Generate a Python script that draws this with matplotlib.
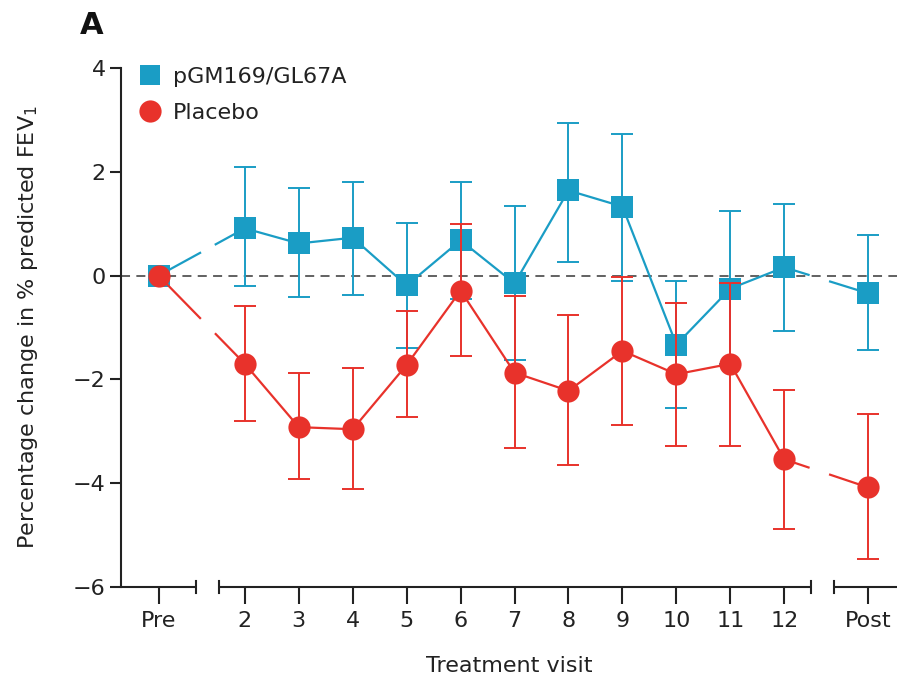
import matplotlib
matplotlib.use('Agg')
import matplotlib.pyplot as plt
from matplotlib.lines import Line2D
import numpy as np

# ---- data ----
visits = ['Pre', '2', '3', '4', '5', '6', '7', '8', '9', '10', '11', '12', 'Post']
active_mean = [0.0, 0.91, 0.62, 0.73, -0.19, 0.68, -0.15, 1.64, 1.33, -1.33, -0.25, 0.16, -0.34]
active_upper = [0.0, 2.09, 1.68, 1.80, 1.02, 1.80, 1.35, 2.94, 2.72, -0.10, 1.24, 1.38, 0.79]
active_lower = [0.0, -0.21, -0.41, -0.37, -1.39, -0.46, -1.62, 0.27, -0.10, -2.55, -1.70, -1.06, -1.43]
placebo_mean = [0.0, -1.70, -2.92, -2.96, -1.72, -0.29, -1.87, -2.22, -1.45, -1.90, -1.70, -3.54, -4.08]
placebo_upper = [0.0, -0.58, -1.87, -1.78, -0.69, 0.99, -0.39, -0.75, -0.02, -0.53, -0.15, -2.21, -2.66]
placebo_lower = [0.0, -2.80, -3.92, -4.11, -2.73, -1.54, -3.32, -3.65, -2.88, -3.29, -3.29, -4.89, -5.47]
yticks = [-6, -4, -2, 0, 2, 4]

# ---- layout ----
xpos = np.array([0.4] + list(range(2, 13)) + [13.55])
gaps = [(1.17, 1.46), (12.45, 12.85)]
blue = '#1a9dc5'
red = '#e8322b'
fam = ['Liberation Sans Narrow', 'DejaVu Sans']
plt.rcParams['font.family'] = fam

fig = plt.figure(figsize=(8.97, 6.82), dpi=100)
W, H = 897, 682
ax = fig.add_axes([121 / W, 1 - 587 / H, (897 - 121) / W, (587 - 68) / H])
ax.set_xlim(-0.296, 14.09)
ax.set_ylim(-6, 4)

# zero reference line
ax.axhline(0, color='#555555', lw=1.3, dashes=(5, 3.5), zorder=1)


def draw_series(mean, upper, lower, color, marker, ms, z):
    mean = np.array(mean)
    up = np.array(upper)
    lo = np.array(lower)
    # error bars
    ax.errorbar(xpos[1:], mean[1:], yerr=[mean[1:] - lo[1:], up[1:] - mean[1:]],
                fmt='none', ecolor=color, elinewidth=1.4, capsize=8, capthick=1.4,
                zorder=z, clip_on=False)
    # solid connecting line for visits 2..12
    ax.plot(xpos[1:-1], mean[1:-1], color=color, lw=1.6, zorder=z, clip_on=False)
    # broken connecting lines across axis breaks
    for (i, j), (g0, g1) in zip([(0, 1), (11, 12)], gaps):
        x0, x1 = xpos[i], xpos[j]
        y0, y1 = mean[i], mean[j]
        yg0 = y0 + (y1 - y0) * (g0 - x0) / (x1 - x0)
        yg1 = y0 + (y1 - y0) * (g1 - x0) / (x1 - x0)
        ax.plot([x0, g0], [y0, yg0], color=color, lw=1.6, zorder=z, clip_on=False)
        ax.plot([g1, x1], [yg1, y1], color=color, lw=1.6, zorder=z, clip_on=False)
    ax.plot(xpos, mean, linestyle='none', marker=marker, ms=ms, color=color,
            markeredgewidth=0, zorder=z + 1, clip_on=False)


draw_series(active_mean, active_upper, active_lower, blue, 's', 15.5, 3)
draw_series(placebo_mean, placebo_upper, placebo_lower, red, 'o', 16, 5)

# axes styling
for s in ['top', 'right', 'bottom']:
    ax.spines[s].set_visible(False)
ax.spines['left'].set_color('#222222')
ax.spines['left'].set_linewidth(1.5)
ax.set_yticks(yticks)
ax.set_yticklabels([str(t).replace('-', '\u2212') for t in yticks])
ax.tick_params(axis='y', direction='out', length=8, width=1.5, color='#222222',
               labelsize=16, labelcolor='#222222', pad=3)
ax.set_xticks(xpos)
ax.set_xticklabels(visits)
ax.tick_params(axis='x', direction='out', length=12, width=1.5, color='#222222',
               labelsize=16, labelcolor='#222222', pad=5)

# broken x axis
tr = ax.get_xaxis_transform()
segments = [(-0.296, 1.09), (1.52, 12.5), (12.93, 14.09)]
for k, (a, b) in enumerate(segments):
    ax.plot([a, b], [0, 0], color='#222222', lw=1.5, transform=tr, clip_on=False,
            solid_capstyle='butt')
    caps = []
    if k > 0:
        caps.append(a)
    if k < len(segments) - 1:
        caps.append(b)
    for c in caps:
        ax.plot([c, c], [-0.012, 0.012], color='#222222', lw=1.5, transform=tr,
                clip_on=False)

ax.set_xlabel('Treatment visit', fontsize=16, color='#222222', labelpad=18)
ax.set_ylabel('Percentage change in % predicted FEV$_1$', fontsize=16,
              color='#222222', labelpad=24)

handles = [Line2D([], [], linestyle='none', marker='s', ms=15, color=blue, markeredgewidth=0),
           Line2D([], [], linestyle='none', marker='o', ms=16, color=red, markeredgewidth=0)]
ax.legend(handles, ['pGM169/GL67A', 'Placebo'], loc='upper left',
          bbox_to_anchor=(0.012, 1.02), frameon=False, fontsize=16,
          handlelength=1.0, handletextpad=0.5, labelspacing=0.72, borderaxespad=0,
          labelcolor='#222222')

fig.text(80 / W, 1 - 25 / H, 'A', fontsize=22, fontweight='bold', color='#111111',
         ha='left', va='center')

fig.savefig('out.png', dpi=100)
